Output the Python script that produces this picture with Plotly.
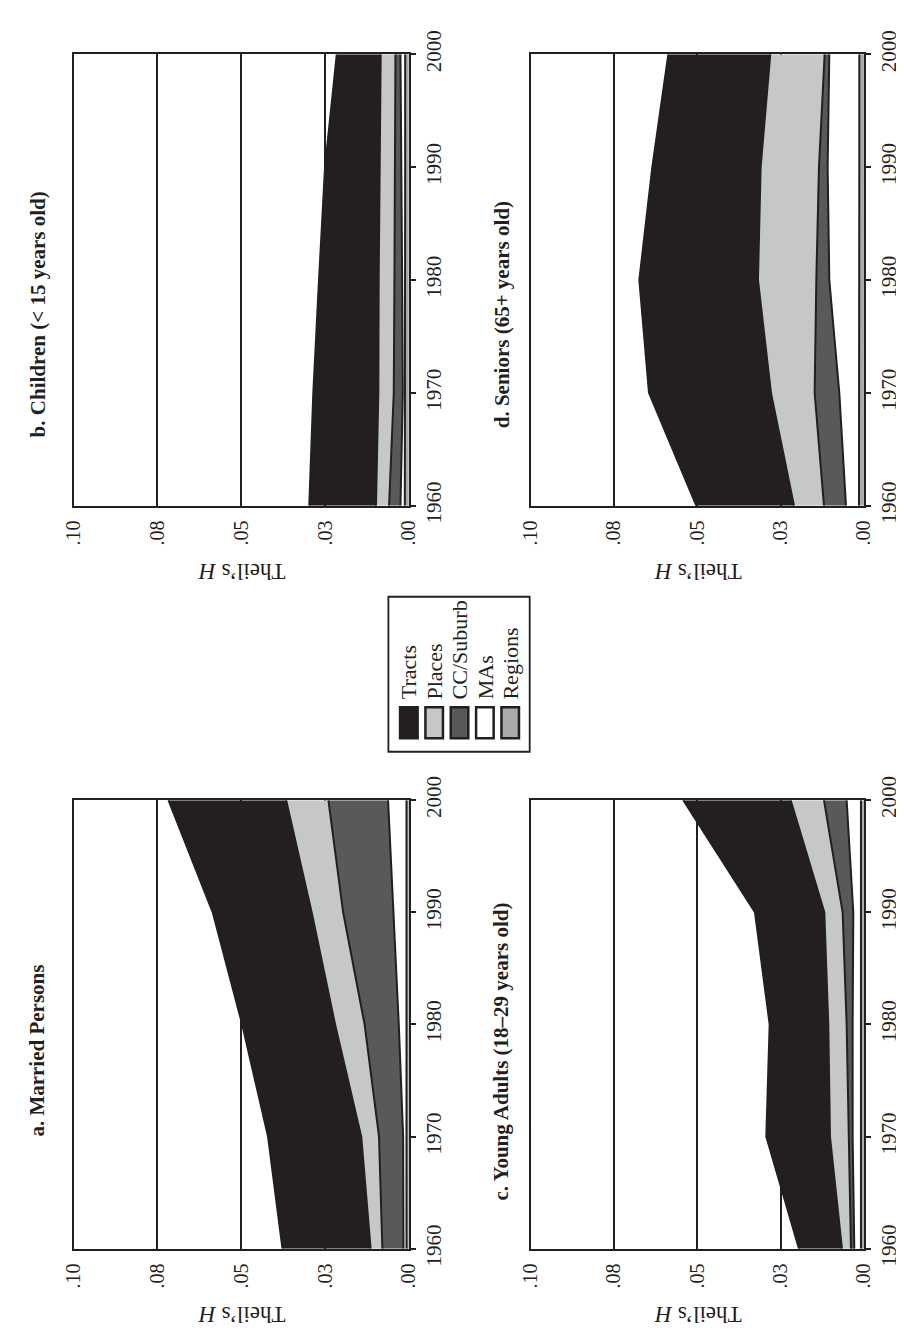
import plotly.graph_objects as go

# ---------------- data ----------------
years = [1960, 1970, 1980, 1990, 2000]

# stacking order from zero outward
series_names = ["Regions", "MAs", "CC/Suburb", "Places", "Tracts"]
series_colors = ["#a7a9ac", "#ffffff", "#58595b", "#c6c7c9", "#231f20"]
legend_names = ["Tracts", "Places", "CC/Suburb", "MAs", "Regions"]

# a. Married Persons
a_regions = [0.0007, 0.0007, 0.0007, 0.0007, 0.0007]
a_mas = [0.0009, 0.0010, 0.0023, 0.0038, 0.0055]
a_cc = [0.0063, 0.0072, 0.0102, 0.0151, 0.0178]
a_places = [0.0035, 0.0053, 0.0088, 0.0094, 0.0126]
a_tracts = [0.0263, 0.0278, 0.0277, 0.0295, 0.0351]

# b. Children
b_regions = [0.0012, 0.0011, 0.0011, 0.0011, 0.0011]
b_mas = [0.0013, 0.0007, 0.0009, 0.0012, 0.0014]
b_cc = [0.0034, 0.0027, 0.0023, 0.0019, 0.0015]
b_places = [0.0039, 0.0046, 0.0047, 0.0046, 0.0044]
b_tracts = [0.0199, 0.0194, 0.0178, 0.0162, 0.0131]

# c. Young Adults
c_regions = [0.0009, 0.0009, 0.0009, 0.0009, 0.0009]
c_mas = [0.0020, 0.0025, 0.0025, 0.0023, 0.0043]
c_cc = [0.0010, 0.0012, 0.0018, 0.0032, 0.0068]
c_places = [0.0027, 0.0056, 0.0055, 0.0055, 0.0100]
c_tracts = [0.0129, 0.0191, 0.0176, 0.0208, 0.0322]

# d. Seniors
d_regions = [0.0015, 0.0014, 0.0014, 0.0014, 0.0014]
d_mas = [0.0039, 0.0060, 0.0090, 0.0095, 0.0090]
d_cc = [0.0066, 0.0074, 0.0039, 0.0026, 0.0014]
d_places = [0.0090, 0.0131, 0.0175, 0.0175, 0.0163]
d_tracts = [0.0293, 0.0366, 0.0356, 0.0325, 0.0306]

value_tickvals = [0, 0.025, 0.05, 0.075, 0.1]
value_ticktext = [".00", ".03", ".05", ".08", ".10"]

titles = {
    "a": "a. Married Persons",
    "b": "b. Children (&lt; 15 years old)",
    "c": "c. Young Adults (18–29 years old)",
    "d": "d. Seniors (65+ years old)",
}
axis_title = "Theil’s <i>H</i>"

# ---------------- layout helpers ----------------
W, H = 904, 1341
INK = "#231f20"
FONT = "Liberation Serif"


def fx(p):
    return p / W


def fy(p):
    return 1 - p / H


LEFT = (55, 399)
RIGHT = (524, 866)
TOP = (23, 489)
BOTTOM = (793, 1256)

panels = [
    ("a", [a_regions, a_mas, a_cc, a_places, a_tracts], LEFT, BOTTOM),
    ("b", [b_regions, b_mas, b_cc, b_places, b_tracts], LEFT, TOP),
    ("c", [c_regions, c_mas, c_cc, c_places, c_tracts], RIGHT, BOTTOM),
    ("d", [d_regions, d_mas, d_cc, d_places, d_tracts], RIGHT, TOP),
]

fig = go.Figure()
layout = {}
annotations = []
shapes = []

for i, (key, data, xr, yr) in enumerate(panels, start=1):
    sfx = "" if i == 1 else str(i)
    for name, vals, color in zip(series_names, data, series_colors):
        fig.add_trace(go.Scatter(
            x=vals, y=years, name=name, mode="lines",
            stackgroup=f"g{i}", orientation="h",
            fillcolor=color, line=dict(color=INK, width=2),
            xaxis=f"x{sfx}", yaxis=f"y{sfx}", showlegend=False,
            hoverinfo="skip",
        ))
    layout[f"xaxis{sfx}"] = dict(
        domain=[fx(xr[0]), fx(xr[1])], range=[0.1, 0], anchor=f"y{sfx}",
        tickvals=value_tickvals, ticktext=value_ticktext, tickangle=-90,
        showgrid=True, gridcolor=INK, gridwidth=1.8, zeroline=False,
        showline=True, mirror=True, linecolor=INK, linewidth=1.8,
        ticks="", tickfont=dict(family=FONT, size=20, color=INK),
        ticklabelstandoff=5,
    )
    layout[f"yaxis{sfx}"] = dict(
        domain=[fy(yr[1]), fy(yr[0])], range=[1960, 2000], anchor=f"x{sfx}",
        side="right", tickvals=years, tickangle=-90,
        ticks="outside", ticklen=5, tickwidth=1.8, tickcolor=INK,
        showgrid=False, zeroline=False,
        showline=True, mirror=True, linecolor=INK, linewidth=1.8,
        tickfont=dict(family=FONT, size=21, color=INK),
    )
    # panel title (rotated)
    title_x = 18 if xr == LEFT else 494
    title_y = 292 if yr == TOP else 1052
    annotations.append(dict(
        text=f"<b>{titles[key]}</b>", x=fx(title_x), y=fy(title_y),
        xref="paper", yref="paper", xanchor="center", yanchor="middle",
        textangle=-90, showarrow=False,
        font=dict(family=FONT, size=21, color=INK),
    ))
    # value axis title (upside down)
    annotations.append(dict(
        text=axis_title, x=fx((xr[0] + xr[1]) / 2), y=fy(yr[1] + 68),
        xref="paper", yref="paper", xanchor="center", yanchor="middle",
        textangle=180, showarrow=False,
        font=dict(family=FONT, size=23, color=INK),
    ))

# ---------------- legend (drawn rotated) ----------------
shapes.append(dict(type="rect", xref="paper", yref="paper",
                   x0=fx(378), x1=fx(523), y0=fy(743), y1=fy(583),
                   line=dict(color=INK, width=1.8), fillcolor="white"))
legend_color = dict(zip(series_names, series_colors))
for j, name in enumerate(legend_names):
    cx = 399 + j * 26
    shapes.append(dict(type="rect", xref="paper", yref="paper",
                       x0=fx(cx - 9), x1=fx(cx + 9), y0=fy(729), y1=fy(697),
                       line=dict(color=INK, width=2.5),
                       fillcolor=legend_color[name]))
    annotations.append(dict(
        text=name, x=fx(cx), y=fy(691), xref="paper", yref="paper",
        xanchor="center", yanchor="bottom", textangle=-90, showarrow=False,
        font=dict(family=FONT, size=22, color=INK),
    ))

fig.update_layout(
    width=W, height=H, margin=dict(l=0, r=0, t=0, b=0),
    paper_bgcolor="white", plot_bgcolor="white",
    annotations=annotations, shapes=shapes, showlegend=False,
    **layout,
)

fig.write_html("out.html")
